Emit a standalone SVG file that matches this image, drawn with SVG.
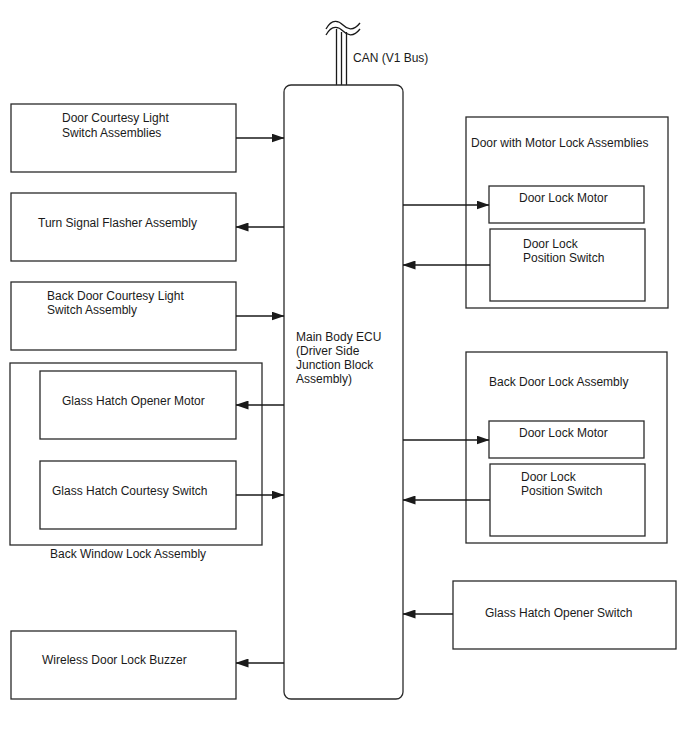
<svg xmlns="http://www.w3.org/2000/svg" width="688" height="755" viewBox="0 0 688 755">
<style>
.box{fill:#fff;stroke:#2a2a2a;stroke-width:1.3}
.t{font-family:"Liberation Sans",Arial,sans-serif;font-size:12px;fill:#1a1a1a}
.c{stroke:#1a1a1a;stroke-width:1.3;fill:none}
</style>
<defs>
<marker id="ah" markerUnits="userSpaceOnUse" markerWidth="13" markerHeight="9" viewBox="0 0 13 9" refX="12.5" refY="4.5" orient="auto">
<path d="M0,0 L13,4.5 L0,9 Z" fill="#1a1a1a"/>
</marker>
</defs>
<rect width="688" height="755" fill="#fff"/>

<g id="can">
<path class="c" d="M336.5,29 V85 M341.5,32 V85 M346.5,32 V85" stroke-width="1.8"/>
<path class="c" d="M326,29 C332,18 339,21 343,25 S353,32 360,23"/>
<path class="c" d="M326,35 C332,24 339,27 343,31 S353,38 360,29"/>
<text class="t" x="353" y="62">CAN (V1 Bus)</text>
</g>

<g id="ecu">
<rect class="box" x="284" y="85" width="119" height="614" rx="7"/>
<text class="t" x="296" y="341">Main Body ECU</text>
<text class="t" x="296" y="355">(Driver Side</text>
<text class="t" x="296" y="369">Junction Block</text>
<text class="t" x="296" y="383">Assembly)</text>
</g>

<g id="door-courtesy">
<rect class="box" x="11" y="104" width="225" height="68"/>
<text class="t" x="62" y="122">Door Courtesy Light</text>
<text class="t" x="62" y="137">Switch Assemblies</text>
</g>

<g id="turn-signal">
<rect class="box" x="11" y="193" width="225" height="68"/>
<text class="t" x="38" y="227">Turn Signal Flasher Assembly</text>
</g>

<g id="back-door-courtesy">
<rect class="box" x="11" y="282" width="225" height="68"/>
<text class="t" x="47" y="300">Back Door Courtesy Light</text>
<text class="t" x="47" y="314">Switch Assembly</text>
</g>

<g id="back-window-lock">
<rect class="box" x="10" y="363" width="252" height="182"/>
<text class="t" x="50" y="558">Back Window Lock Assembly</text>
</g>

<g id="glass-hatch-motor">
<rect class="box" x="40" y="371" width="196" height="68"/>
<text class="t" x="62" y="405">Glass Hatch Opener Motor</text>
</g>

<g id="glass-hatch-courtesy">
<rect class="box" x="40" y="461" width="196" height="68"/>
<text class="t" x="52" y="495">Glass Hatch Courtesy Switch</text>
</g>

<g id="buzzer">
<rect class="box" x="11" y="631" width="225" height="68"/>
<text class="t" x="42" y="664">Wireless Door Lock Buzzer</text>
</g>

<g id="door-motor-lock">
<rect class="box" x="466" y="117" width="202" height="191"/>
<text class="t" x="471" y="147">Door with Motor Lock Assemblies</text>
</g>

<g id="door-lock-motor-1">
<rect class="box" x="489" y="186" width="155" height="37"/>
<text class="t" x="519" y="202">Door Lock Motor</text>
</g>

<g id="door-lock-switch-1">
<rect class="box" x="490" y="229" width="155" height="72"/>
<text class="t" x="523" y="248">Door Lock</text>
<text class="t" x="523" y="262">Position Switch</text>
</g>

<g id="back-door-lock">
<rect class="box" x="466" y="352" width="201" height="191"/>
<text class="t" x="489" y="386">Back Door Lock Assembly</text>
</g>

<g id="door-lock-motor-2">
<rect class="box" x="489" y="421" width="155" height="37"/>
<text class="t" x="519" y="437">Door Lock Motor</text>
</g>

<g id="door-lock-switch-2">
<rect class="box" x="490" y="464" width="155" height="72"/>
<text class="t" x="521" y="481">Door Lock</text>
<text class="t" x="521" y="495">Position Switch</text>
</g>

<g id="glass-hatch-switch">
<rect class="box" x="453" y="581" width="223" height="68"/>
<text class="t" x="485" y="617">Glass Hatch Opener Switch</text>
</g>

<g id="connectors">
<line class="c" x1="236" y1="138" x2="284" y2="138" marker-end="url(#ah)"/>
<line class="c" x1="284" y1="227" x2="236" y2="227" marker-end="url(#ah)"/>
<line class="c" x1="236" y1="316" x2="284" y2="316" marker-end="url(#ah)"/>
<line class="c" x1="284" y1="405" x2="236" y2="405" marker-end="url(#ah)"/>
<line class="c" x1="236" y1="495" x2="284" y2="495" marker-end="url(#ah)"/>
<line class="c" x1="284" y1="663" x2="236" y2="663" marker-end="url(#ah)"/>
<line class="c" x1="403" y1="205" x2="489" y2="205" marker-end="url(#ah)"/>
<line class="c" x1="490" y1="265" x2="403" y2="265" marker-end="url(#ah)"/>
<line class="c" x1="403" y1="440" x2="489" y2="440" marker-end="url(#ah)"/>
<line class="c" x1="490" y1="500" x2="403" y2="500" marker-end="url(#ah)"/>
<line class="c" x1="453" y1="614" x2="403" y2="614" marker-end="url(#ah)"/>
</g>
</svg>
